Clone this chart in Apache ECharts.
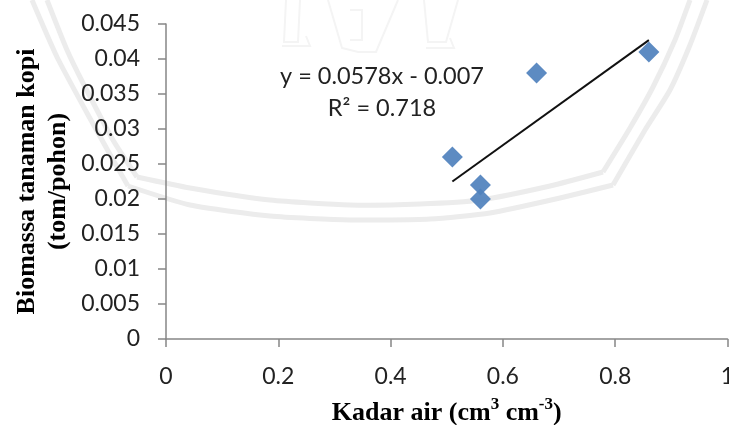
<!DOCTYPE html>
<html>
<head>
<meta charset="utf-8">
<script src="https://cdn.jsdelivr.net/npm/echarts@6/dist/echarts.min.js"></script>
<style>
  html, body { margin: 0; padding: 0; background: #fff; }
  #main { width: 729px; height: 425px; }
</style>
</head>
<body>
<div id="main"></div>
<script>
var kadarAir = [0.51, 0.56, 0.56, 0.66, 0.86];
var biomassa = [0.026, 0.022, 0.02, 0.038, 0.041];
var trendX = [0.51, 0.86];
var trendY = [0.0225, 0.0427];
var equationLines = ['y = 0.0578x - 0.007', 'R² = 0.718'];

var labelFont = 'Lato';
var axisColor = '#868686';
var markColor = '#4F81BD';
var wmColor = '#ececec';

function zip(a, b) {
  return a.map(function (v, i) { return [v, b[i]]; });
}

// watermark behind the chart, only decoration
function band(points, width) {
  return {
    type: 'polyline', silent: true, z: -10,
    shape: { points: points, smooth: 0.2 },
    style: { stroke: wmColor, lineWidth: width, fill: null }
  };
}
function figure(points) {
  return {
    type: 'polyline', silent: true, z: -10,
    shape: { points: points },
    style: { stroke: '#f4f4f4', lineWidth: 2, fill: null }
  };
}

var myChart = echarts.init(document.getElementById('main'));
var option = {
  animation: false,
  backgroundColor: '#fff',
  grid: { left: 166, right: 1.5, top: 24, bottom: 86, outerBoundsMode: 'none' },
  xAxis: {
    type: 'value', min: 0, max: 1, interval: 0.2,
    splitLine: { show: false },
    axisLine: { onZero: false, lineStyle: { color: axisColor, width: 1.5 } },
    axisTick: { length: 8, lineStyle: { color: axisColor, width: 1.5 } },
    axisLabel: { color: '#222', fontFamily: labelFont, fontSize: 23, margin: 26, hideOverlap: false, showMaxLabel: true },
    name: '{a|Kadar air (cm}{s|3}{a| cm}{s|-3}{a|)}',
    nameLocation: 'middle',
    nameMoveOverlap: false,
    nameGap: 57,
    nameTextStyle: {
      rich: {
        a: { fontFamily: 'Liberation Serif', fontWeight: 'bold', fontSize: 26, color: '#000', lineHeight: 30, verticalAlign: 'bottom' },
        s: { fontFamily: 'Liberation Serif', fontWeight: 'bold', fontSize: 17, color: '#000', lineHeight: 30, verticalAlign: 'top' }
      }
    }
  },
  yAxis: {
    type: 'value', min: 0, max: 0.045, interval: 0.005,
    splitLine: { show: false },
    axisLine: { onZero: false, lineStyle: { color: axisColor, width: 1.5 } },
    axisTick: { length: 8, lineStyle: { color: axisColor, width: 1.5 } },
    axisLabel: { color: '#222', fontFamily: labelFont, fontSize: 23, margin: 26 },
    name: 'Biomassa tanaman kopi\n(tom/pohon)',
    nameLocation: 'middle',
    nameMoveOverlap: false,
    nameGap: 92,
    nameTextStyle: {
      fontFamily: 'Liberation Serif', fontWeight: 'bold', fontSize: 26, color: '#000', lineHeight: 31
    }
  },
  series: [
    {
      type: 'line',
      data: zip(trendX, trendY),
      showSymbol: false,
      lineStyle: { color: '#111', width: 2 },
      z: 2
    },
    {
      type: 'scatter',
      data: zip(kadarAir, biomassa),
      symbol: 'diamond',
      symbolSize: 21,
      itemStyle: { color: markColor, opacity: 0.92 },
      z: 3
    }
  ],
  graphic: [
    band([[32, 0], [57, 57], [87, 113], [112, 158], [128, 186]], 5),
    band([[128, 186], [190, 205], [270, 216], [350, 220], [430, 219], [490, 213], [560, 198], [613, 185]], 5),
    band([[613, 185], [645, 130], [670, 90], [690, 45], [707, 0]], 5),
    band([[47, 0], [67, 50], [83, 83], [113, 140], [137, 177]], 5),
    band([[137, 177], [190, 188], [270, 200], [350, 205], [420, 204], [480, 200], [550, 186], [603, 172]], 5),
    band([[603, 172], [630, 128], [653, 87], [675, 40], [690, 0]], 5),
    figure([[286, 0], [284, 42], [298, 42], [300, 0]]),
    figure([[282, 46], [310, 46], [306, 36]]),
    figure([[328, 0], [342, 48], [358, 52], [376, 52], [398, 0]]),
    figure([[350, 10], [362, 10], [362, 40], [350, 40]]),
    figure([[424, 0], [428, 42], [446, 42], [458, 0]]),
    figure([[426, 48], [454, 48], [450, 38]]),
    {
      type: 'text', z: 5,
      style: {
        x: 382, y: 92,
        text: equationLines.join('\n'),
        fontFamily: labelFont, fontSize: 23.5, lineHeight: 32,
        fill: '#222', align: 'center', verticalAlign: 'middle'
      }
    }
  ]
};
myChart.setOption(option);
</script>
</body>
</html>
